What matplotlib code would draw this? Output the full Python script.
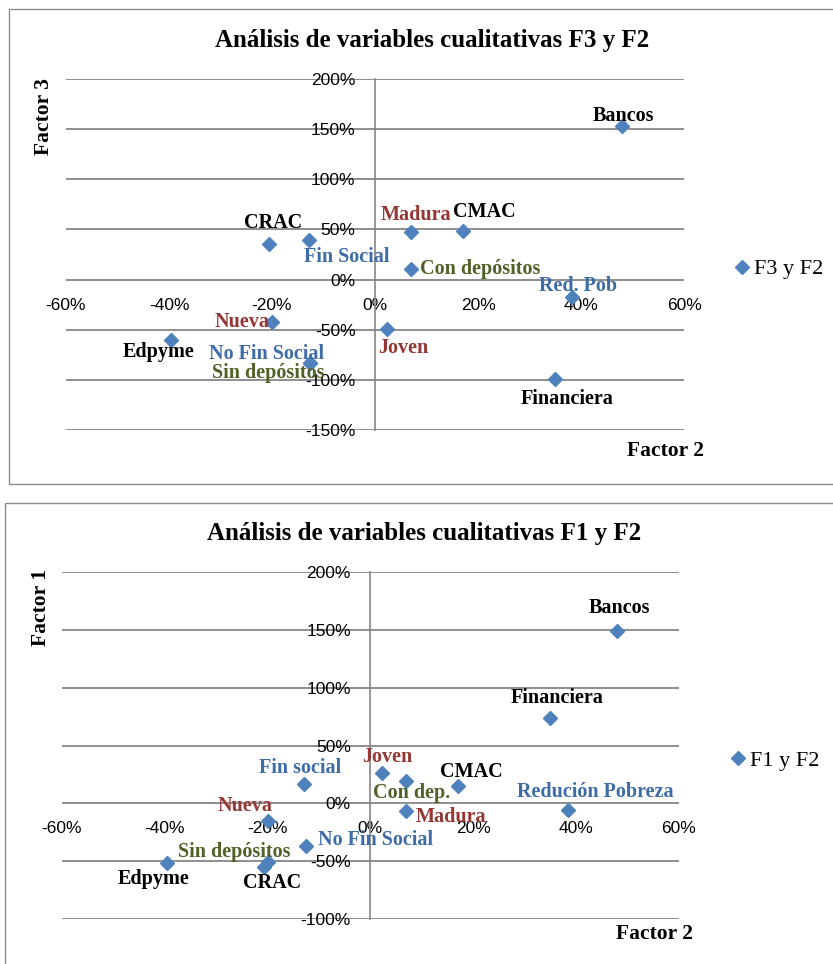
import matplotlib
matplotlib.use("Agg")
import matplotlib.pyplot as plt
from matplotlib.patches import Rectangle
from matplotlib.lines import Line2D
from matplotlib.ticker import FuncFormatter

# ---------------- data ----------------
x_ticks = [-60, -40, -20, 0, 20, 40, 60]

top_title = "Análisis de variables cualitativas F3 y F2"
top_series = "F3 y F2"
top_labels = ["Bancos", "CRAC", "Fin Social", "Madura", "CMAC", "Con depósitos",
              "Red. Pob", "Nueva", "Joven", "Edpyme", "No Fin Social",
              "Sin depósitos", "Financiera"]
top_f2 = [48, -20.6, -12.8, 7, 17.1, 7, 38.3, -20, 2.4, -39.6, -12.6, -12.6, 34.9]
top_f3 = [153, 35, 39, 47, 48, 11, -17, -42, -49, -60, -83, -83, -99]
top_yticks = [-150, -100, -50, 0, 50, 100, 150, 200]

bot_title = "Análisis de variables cualitativas F1 y F2"
bot_series = "F1 y F2"
bot_labels = ["Bancos", "Financiera", "Joven", "Con dep.", "CMAC", "Fin social",
              "Madura", "Redución Pobreza", "Nueva", "No Fin Social",
              "Sin depósitos", "CRAC", "Edpyme"]
bot_f2 = [48, 35, 2.3, 7, 17, -12.9, 7, 38.4, -20, -12.6, -20, -20.7, -39.5]
bot_f1 = [149, 74, 26.5, 19.5, 15, 17, -6.7, -5.8, -15.3, -37, -51, -55, -52]
bot_yticks = [-100, -50, 0, 50, 100, 150, 200]

# ---------------- styles ----------------
BLACK = "#000000"
RED = "#953735"
BLUE = "#3E6CA6"
GREEN = "#4F6228"
MARKER = "#4F81BD"
GRID = "#868686"

# label: (color, dx_px, dy_px, ha)
top_style = {
    "Bancos": (BLACK, 1, 10, "center"),
    "CRAC": (BLACK, 4, 21, "center"),
    "Fin Social": (BLUE, 38, -17, "center"),
    "Madura": (RED, 5, 17, "center"),
    "CMAC": (BLACK, 21, 19, "center"),
    "Con depósitos": (GREEN, 9, 0, "left"),
    "Red. Pob": (BLUE, 6, 11, "center"),
    "Nueva": (RED, -2, 0, "right"),
    "Joven": (RED, 16, -19, "center"),
    "Edpyme": (BLACK, -12, -12, "center"),
    "No Fin Social": (BLUE, -44, 9, "center"),
    "Sin depósitos": (GREEN, -42, -10, "center"),
    "Financiera": (BLACK, 12, -20, "center"),
}
bot_style = {
    "Bancos": (BLACK, 3, 23, "center"),
    "Financiera": (BLACK, 7, 20, "center"),
    "Joven": (RED, 5, 16, "center"),
    "Con dep.": (GREEN, 5, -12, "center"),
    "CMAC": (BLACK, 14, 14, "center"),
    "Fin social": (BLUE, -4, 16, "center"),
    "Madura": (RED, 9, -6, "left"),
    "Redución Pobreza": (BLUE, 28, 18, "center"),
    "Nueva": (RED, -22, 15, "center"),
    "No Fin Social": (BLUE, 12, 6, "left"),
    "Sin depósitos": (GREEN, -33, 10, "center"),
    "CRAC": (BLACK, 8, -16, "center"),
    "Edpyme": (BLACK, -14, -16, "center"),
}

W, H = 833, 964
fig = plt.figure(figsize=(W / 100, H / 100), dpi=100)
fig.patch.set_facecolor("white")


def fx(px):
    return px / W


def fy(py):
    return 1 - py / H


SERIF = ["Liberation Serif", "DejaVu Serif"]
SANS = ["Liberation Sans", "DejaVu Sans"]


def panel(box, left, right, top, bottom, xs, ys, labels, styles, yticks,
          title, title_xy, series, legend_xy, ytitle, ytitle_xy, xtitle_xy):
    bx0, by0, bx1, by1 = box
    fig.add_artist(Rectangle((fx(bx0), fy(by1)), fx(bx1 - bx0), (by1 - by0) / H,
                             transform=fig.transFigure, fill=False,
                             edgecolor="#8C8C8C", linewidth=1.0, zorder=0))
    ax = fig.add_axes([fx(left), fy(bottom), fx(right - left), (bottom - top) / H])
    ax.set_facecolor("none")
    ax.set_xlim(x_ticks[0], x_ticks[-1])
    ax.set_ylim(yticks[0], yticks[-1])
    ax.set_xticks(x_ticks)
    ax.set_yticks(yticks)
    fmt = FuncFormatter(lambda v, p: "%d%%" % round(v))
    ax.xaxis.set_major_formatter(fmt)
    ax.yaxis.set_major_formatter(fmt)
    for s in ("top", "right"):
        ax.spines[s].set_visible(False)
    ax.spines["bottom"].set_position(("data", 0))
    ax.spines["bottom"].set_visible(False)
    ax.spines["left"].set_position(("data", 0))
    ax.spines["left"].set_color(GRID)
    ax.spines["left"].set_linewidth(1.2)
    ax.yaxis.grid(True, color=GRID, linewidth=1.3)
    ax.set_axisbelow(True)
    ax.tick_params(axis="x", length=0, pad=13, labelsize=12.5)
    ax.tick_params(axis="y", length=0, pad=14, labelsize=12.5)
    for t in ax.get_xticklabels() + ax.get_yticklabels():
        t.set_fontfamily(SANS)

    ax.plot(xs, ys, linestyle="none", marker="D", markersize=7.6,
            color=MARKER, markeredgecolor=MARKER, zorder=3, clip_on=False)
    for lab, x, y in zip(labels, xs, ys):
        c, dx, dy, ha = styles[lab]
        ax.annotate(lab, (x, y), xytext=(dx, dy), textcoords="offset pixels",
                    ha=ha, va="center", color=c, fontsize=14.5, fontweight="bold",
                    family=SERIF, zorder=4)

    fig.text(fx(title_xy[0]), fy(title_xy[1]), title, ha="center", va="baseline",
             fontsize=18, fontweight="bold", family=SERIF)
    fig.text(fx(ytitle_xy[0]), fy(ytitle_xy[1]), ytitle, ha="center", va="center",
             rotation=90, fontsize=15.5, fontweight="bold", family=SERIF)
    fig.text(fx(xtitle_xy[0]), fy(xtitle_xy[1]), "Factor 2", ha="center", va="center",
             fontsize=15.5, fontweight="bold", family=SERIF)
    handle = Line2D([], [], linestyle="none", marker="D", markersize=7.6,
                    color=MARKER)
    ax.legend([handle], [series], loc="center left",
              bbox_to_anchor=(fx(legend_xy[0]), fy(legend_xy[1])),
              bbox_transform=fig.transFigure, frameon=False, borderpad=0,
              borderaxespad=0, handlelength=0.8, handletextpad=0.15,
              prop={"family": SERIF, "size": 16})
    return ax


panel((8.5, 9, 900, 484), 66, 684, 79, 430, top_f2, top_f3, top_labels, top_style,
      top_yticks, top_title, (432, 47), top_series, (733, 269), "Factor 3", (44, 117),
      (665, 451))
panel((4.5, 503, 900, 1000), 62, 678.5, 572, 919, bot_f2, bot_f1, bot_labels, bot_style,
      bot_yticks, bot_title, (424, 540), bot_series, (729, 761), "Factor 1", (41, 607),
      (654, 934))

fig.savefig("out.png", dpi=100, facecolor="white")
